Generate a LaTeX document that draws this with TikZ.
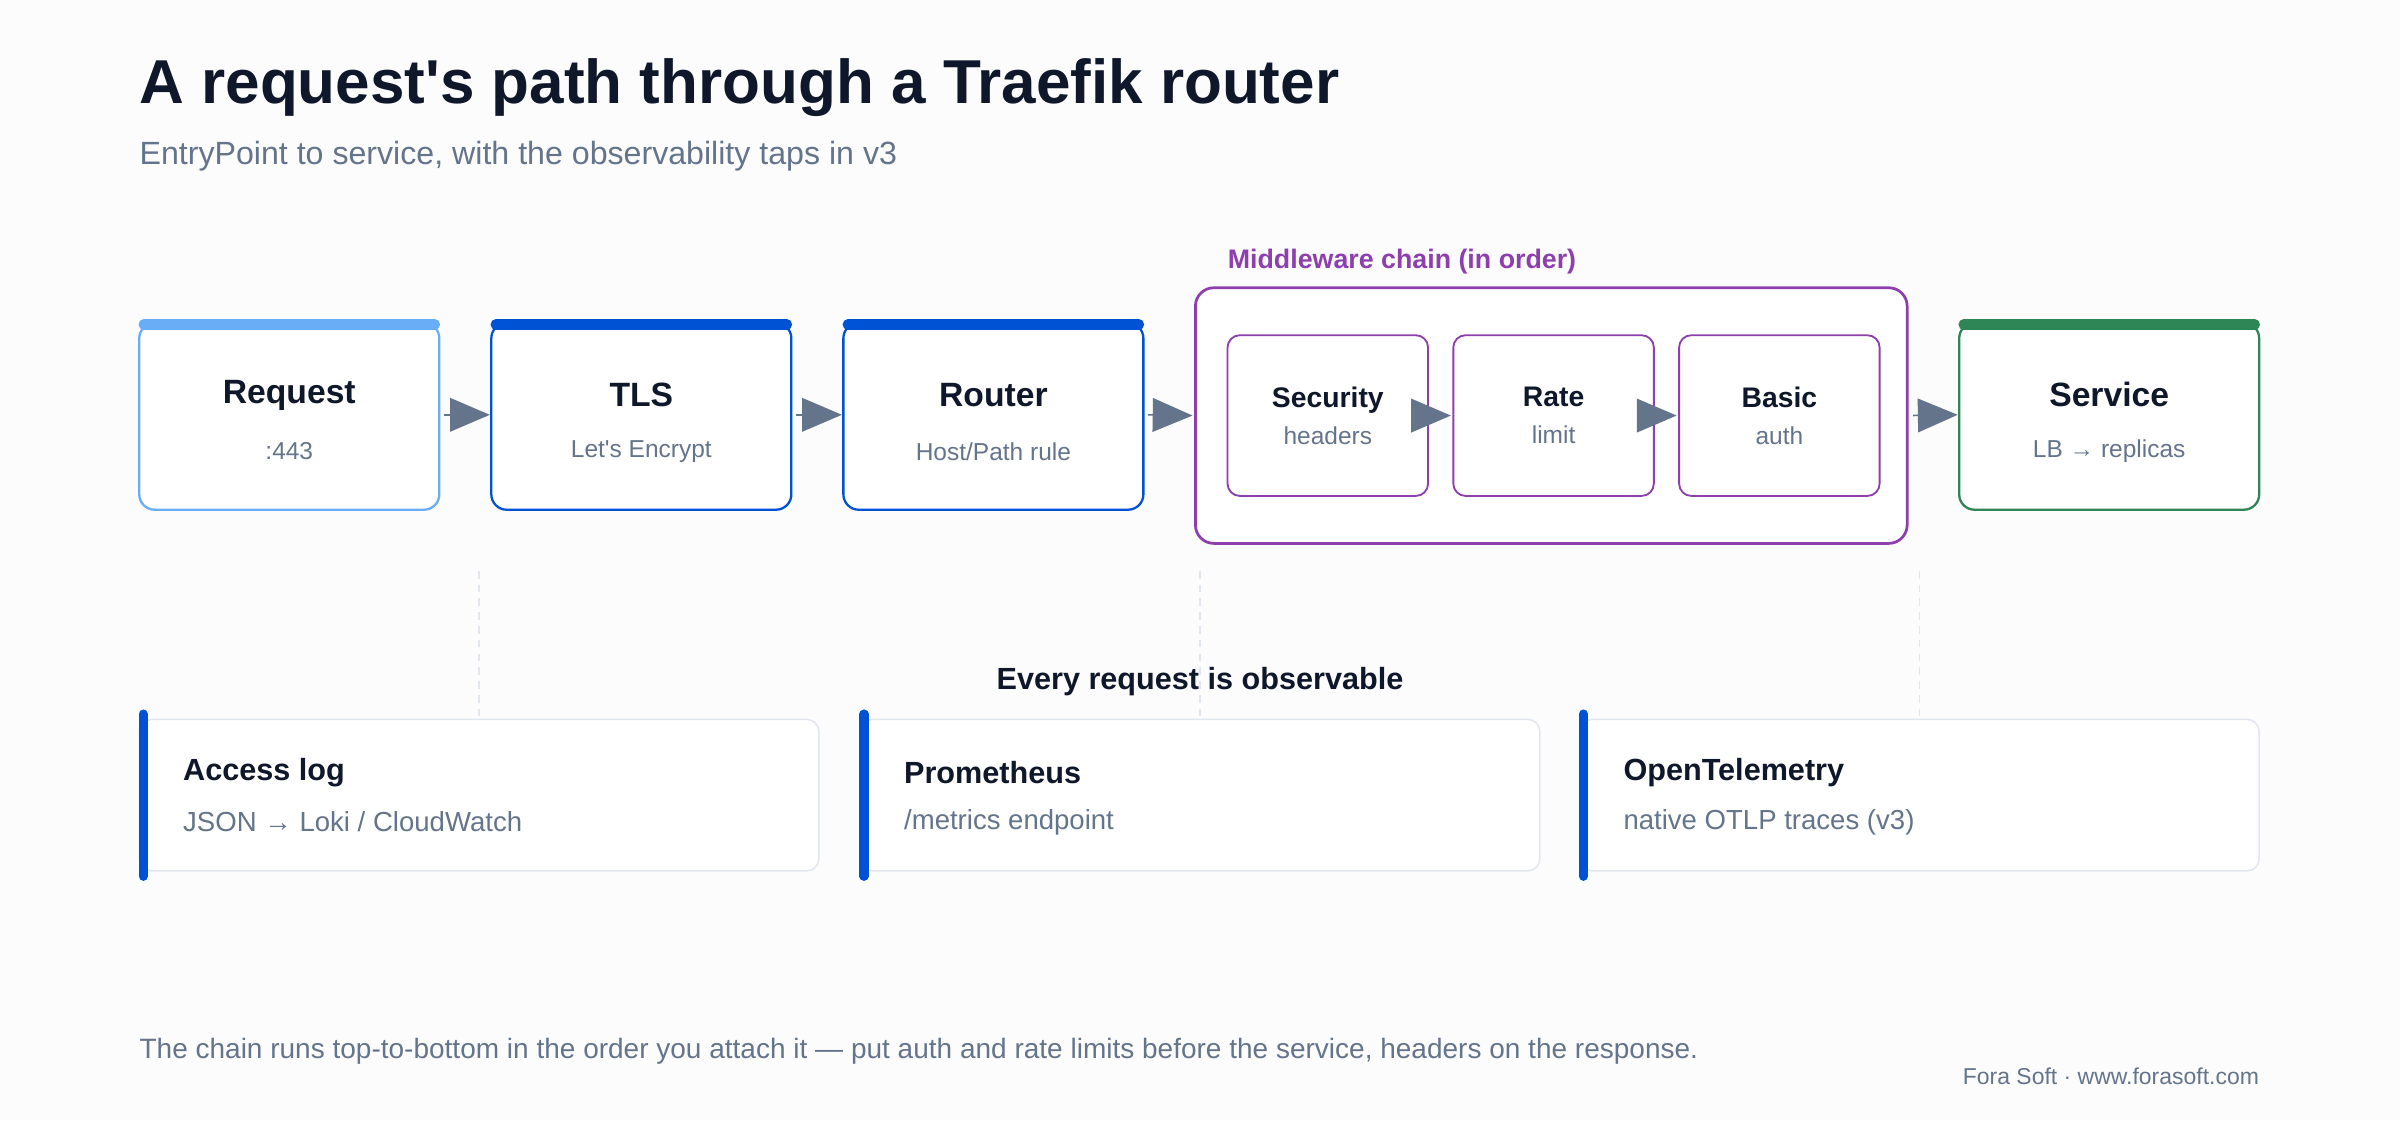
\documentclass[tikz,border=0pt]{standalone}
\usepackage{fontspec}
\setmainfont{Liberation Sans}[Ligatures=TeXOff]
\usetikzlibrary{arrows.meta}
\definecolor{ink}{HTML}{0F172A}
\definecolor{muted}{HTML}{64748B}
\definecolor{skyb}{HTML}{6AADF7}
\definecolor{deepb}{HTML}{0052D4}
\definecolor{grn}{HTML}{2E8555}
\definecolor{purp}{HTML}{8E3FAE}
\definecolor{edge}{HTML}{E2E6EE}
\definecolor{bg}{HTML}{FCFCFD}
\tikzset{
  stage/.style={draw=#1, line width=1.5pt, rounded corners=10pt, fill=white},
  mw/.style={draw=purp, line width=1.2pt, rounded corners=8pt, fill=white, minimum width=131pt, minimum height=105pt},
  flow/.style={-{Triangle[length=26pt,width=22pt]}, muted, line width=1pt, shorten >=1pt, shorten <=3pt},
  tap/.style={draw=edge, line width=1pt, dashed, dash pattern=on 5pt off 4pt},
  card/.style={draw=edge, line width=1pt, rounded corners=8pt, fill=white, minimum width=444pt, minimum height=99pt},
}
\begin{document}
\begin{tikzpicture}[x=1pt,y=1pt,yscale=-1]
%background
\fill[bg] (0,0) rectangle (1568,732);
\useasboundingbox (0,0) rectangle (1568,732);

%title
\node[anchor=west, font=\bfseries\fontsize{40.5}{44}\selectfont, text=ink, inner sep=0] at (91,57) {A request's path through a Traefik router};
\node[anchor=west, font=\fontsize{21}{24}\selectfont, text=muted, inner sep=0] at (91,102) {EntryPoint to service, with the observability taps in v3};

%pipeline stages
\newcommand{\stagebox}[5]{%
  \draw[stage=#3] (#2,211) rectangle (#2+196,333);
  \draw[#3, line width=7pt, line cap=round] (#2+3,212) -- (#2+193,212);
  \node[font=\bfseries\fontsize{22}{24}\selectfont, text=ink] at (#2+98,258) {#4};
  \node[font=\fontsize{16}{18}\selectfont, text=muted] at (#2+98,295) {#5};
  \coordinate (#1-w) at (#2,271);
  \coordinate (#1-e) at (#2+196,271);
}
\stagebox{req}{91}{skyb}{Request}{:443}
\stagebox{tls}{321}{deepb}{TLS}{Let's Encrypt}
\stagebox{rtr}{551}{deepb}{Router}{Host/Path rule}
\stagebox{svc}{1280}{grn}{Service}{LB → replicas}

%middleware chain
\node[anchor=west, font=\bfseries\fontsize{17.5}{20}\selectfont, text=purp, inner sep=0] at (802,171) {Middleware chain (in order)};
\node[draw=purp, line width=1.8pt, rounded corners=12pt, minimum width=465pt, minimum height=167pt, fill=white] (chain) at (1013.5,271.5) {};
\node[mw, align=center, font=\fontsize{16}{24}\selectfont, text=muted] (sec) at (867.5,271.5) {{\bfseries\fontsize{18.5}{22}\selectfont\color{ink}Security}\\headers};
\node[mw, align=center, font=\fontsize{16}{24}\selectfont, text=muted] (rate) at (1015,271.5) {{\bfseries\fontsize{18.5}{22}\selectfont\color{ink}Rate}\\limit};
\node[mw, align=center, font=\fontsize{16}{24}\selectfont, text=muted] (auth) at (1162.5,271.5) {{\bfseries\fontsize{18.5}{22}\selectfont\color{ink}Basic}\\auth};

%connectors
\draw[flow] (req-e) -- (tls-w);
\draw[flow] (tls-e) -- (rtr-w);
\draw[flow] (rtr-e) -- (chain.west);
\draw[flow] (sec) -- (rate);
\draw[flow] (rate) -- (auth);
\draw[flow] (chain.east) -- (svc-w);

%observability taps
\node[font=\bfseries\fontsize{20}{22}\selectfont, text=ink] at (784,445) {Every request is observable};
\foreach \n/\x in {log/313, prom/784, otel/1254}{
  \coordinate (\n-tap) at (\x,373);
  \draw[tap] (\n-tap) -- (\x,470);
}
\node[card] (log) at (313,519.5) {};
\node[card] (prom) at (784,519.5) {};
\node[card] (otel) at (1254,519.5) {};
\foreach \n/\h/\s in {log/Access log/{JSON → Loki / CloudWatch},
                      prom/Prometheus/{/metrics endpoint},
                      otel/OpenTelemetry/{native OTLP traces (v3)}}{
  \draw[deepb, line width=6pt, line cap=round] ([xshift=3pt,yshift=-3pt]\n.north west) -- ([xshift=3pt,yshift=3pt]\n.south west);
  \node[anchor=west, font=\bfseries\fontsize{20}{22}\selectfont, text=ink, inner sep=0] at ([xshift=29pt,yshift=-14.5pt]\n.west) {\h};
  \node[anchor=west, font=\fontsize{18}{20}\selectfont, text=muted, inner sep=0] at ([xshift=29pt,yshift=17.5pt]\n.west) {\s};
}

%footer
\node[anchor=west, font=\fontsize{18.3}{20}\selectfont, text=muted, inner sep=0] at (91,687) {The chain runs top-to-bottom in the order you attach it — put auth and rate limits before the service, headers on the response.};
\node[anchor=east, font=\fontsize{15}{17}\selectfont, text=muted, inner sep=0] at (1476,703) {Fora Soft · www.forasoft.com};
\end{tikzpicture}
\end{document}
